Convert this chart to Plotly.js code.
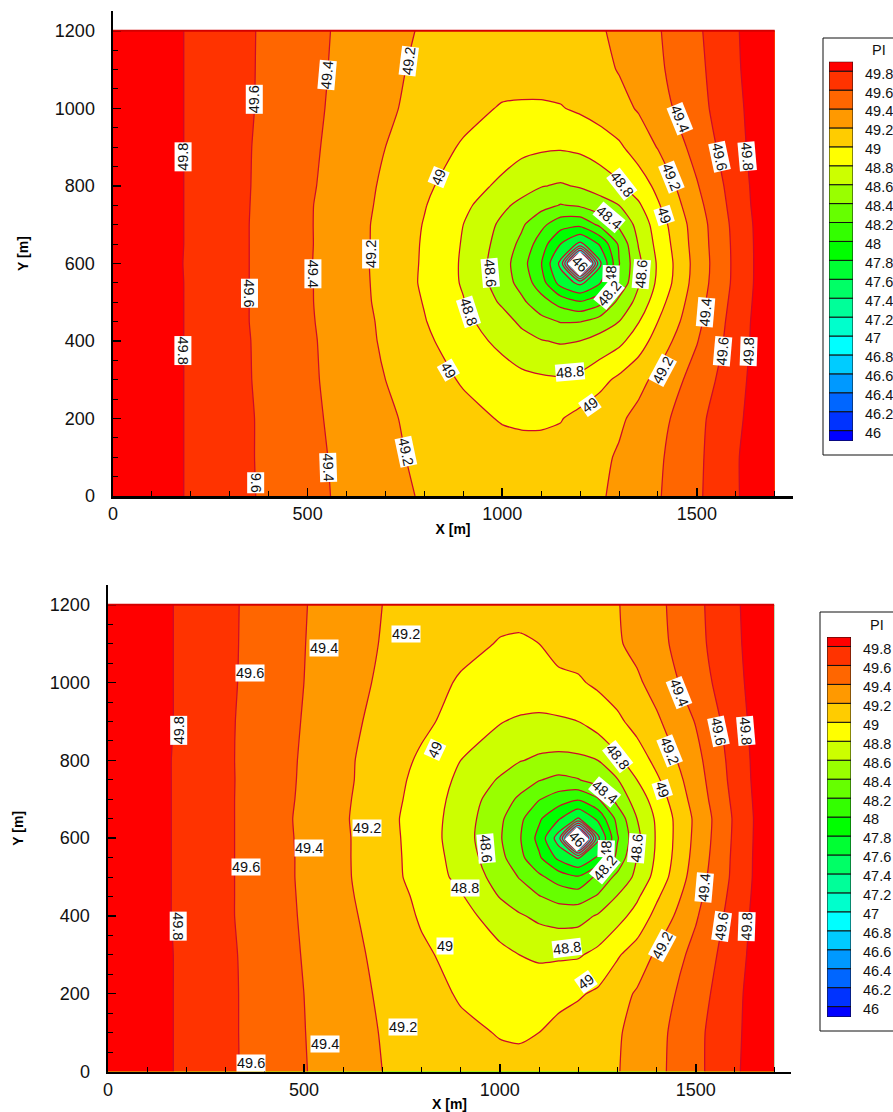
<!DOCTYPE html>
<html>
<head>
<meta charset="utf-8">
<script src="https://cdn.plot.ly/plotly-3.0.1.min.js"></script>
<style>html,body{margin:0;padding:0;background:#fff;overflow:hidden}</style>
</head>
<body>
<div id="chart" style="width:893px;height:1112px"></div>
<script>
const xNodes = [0,100,200,300,400,500,600,700,800,900,1000,1050,1100,1150,1200,1250,1300,1350,1400,1500,1600,1700];
const yNodes = [0,100,200,300,400,450,500,550,600,650,700,750,800,900,1000,1100,1200];

const zTop = [
[50,49.89,49.78,49.67,49.565,49.46,49.358,49.263,49.18,49.14,49.11,49.1,49.1,49.11,49.14,49.18,49.24,49.31,49.384,49.568,49.78,49.99],
[50,49.89,49.78,49.67,49.56,49.454,49.35,49.254,49.15,49.1,49.08,49.07,49.07,49.08,49.11,49.16,49.22,49.3,49.37,49.56,49.78,50],
[50,49.89,49.78,49.67,49.56,49.445,49.335,49.23,49.14,49.06,48.985,48.97,48.97,48.99,49.06,49.12,49.17,49.25,49.33,49.55,49.755,49.99],
[50,49.89,49.78,49.665,49.55,49.435,49.32,49.2,49.09,48.98,48.89,48.85,48.83,48.82,48.85,48.94,49.04,49.145,49.25,49.48,49.73,49.98],
[50,49.89,49.78,49.665,49.545,49.43,49.31,49.17,49.04,48.89,48.75,48.67,48.61,48.58,48.6,48.67,48.75,48.9,49.09,49.39,49.7,49.98],
[50,49.89,49.78,49.66,49.54,49.425,49.295,49.165,49.01,48.85,48.68,48.56,48.46,48.39,48.395,48.49,48.6,48.79,49,49.35,49.69,49.98],
[50,49.89,49.78,49.66,49.54,49.42,49.29,49.15,48.99,48.81,48.57,48.44,48.28,48.13,48.02,48.14,48.46,48.66,48.92,49.32,49.67,49.98],
[50,49.89,49.78,49.66,49.54,49.42,49.285,49.145,48.97,48.78,48.5,48.33,48.09,47.72,47.55,47.78,48.24,48.58,48.84,49.29,49.65,49.98],
[50,49.89,49.777,49.66,49.54,49.417,49.285,49.14,48.976,48.775,48.49,48.28,48.01,47.55,45.9,47.55,48.19,48.556,48.825,49.277,49.647,49.98],
[50,49.89,49.78,49.66,49.54,49.42,49.285,49.145,48.98,48.785,48.52,48.35,48.1,47.8,47.55,47.82,48.23,48.61,48.86,49.29,49.65,49.98],
[50,49.89,49.78,49.66,49.54,49.42,49.28,49.15,48.99,48.8,48.56,48.43,48.25,48.08,48.05,48.24,48.44,48.66,48.9,49.3,49.66,49.98],
[50,49.89,49.78,49.665,49.54,49.42,49.29,49.16,49.01,48.85,48.64,48.55,48.47,48.39,48.43,48.52,48.6,48.77,48.98,49.34,49.68,49.99],
[50,49.89,49.78,49.665,49.545,49.43,49.3,49.17,49.04,48.89,48.76,48.68,48.61,48.58,48.62,48.68,48.77,48.9,49.05,49.385,49.695,49.99],
[50,49.89,49.78,49.665,49.55,49.44,49.32,49.2,49.09,48.98,48.89,48.85,48.83,48.82,48.84,48.9,48.97,49.09,49.21,49.47,49.73,49.99],
[50,49.89,49.78,49.67,49.56,49.448,49.34,49.23,49.14,49.06,48.985,48.98,48.98,48.99,49.03,49.08,49.14,49.217,49.32,49.53,49.75,49.99],
[50,49.89,49.78,49.67,49.563,49.454,49.351,49.254,49.15,49.1,49.08,49.07,49.07,49.08,49.1,49.15,49.21,49.287,49.367,49.55,49.77,50],
[50,49.89,49.78,49.67,49.565,49.46,49.358,49.263,49.18,49.14,49.11,49.1,49.1,49.11,49.14,49.18,49.24,49.31,49.384,49.568,49.78,50]
];

const zBottom = [
[50,49.88,49.76,49.64,49.525,49.41,49.3,49.2,49.13,49.08,49.05,49.05,49.07,49.1,49.14,49.17,49.19,49.27,49.35,49.55,49.77,49.99],
[50,49.88,49.76,49.64,49.52,49.405,49.29,49.19,49.11,49.04,48.99,48.98,49,49.04,49.09,49.14,49.18,49.26,49.34,49.55,49.76,49.99],
[50,49.88,49.76,49.64,49.52,49.4,49.29,49.17,49.08,48.98,48.95,48.94,48.95,48.96,48.98,49.03,49.13,49.22,49.3,49.51,49.75,49.99],
[50,49.88,49.76,49.64,49.51,49.39,49.27,49.15,49.03,48.94,48.84,48.8,48.76,48.77,48.78,48.85,48.98,49.09,49.23,49.46,49.72,49.99],
[50,49.88,49.75,49.63,49.5,49.38,49.25,49.12,48.98,48.86,48.72,48.62,48.56,48.52,48.53,48.62,48.73,48.87,49.06,49.38,49.69,49.99],
[50,49.88,49.75,49.63,49.5,49.375,49.24,49.1,48.96,48.82,48.59,48.5,48.41,48.33,48.31,48.42,48.61,48.77,48.97,49.34,49.67,49.99],
[50,49.88,49.75,49.63,49.5,49.37,49.23,49.09,48.92,48.75,48.52,48.39,48.24,48.11,48.02,48.25,48.45,48.65,48.87,49.3,49.65,49.99],
[50,49.88,49.75,49.63,49.5,49.37,49.23,49.08,48.92,48.72,48.46,48.26,48.03,47.75,47.58,47.83,48.26,48.6,48.83,49.27,49.645,49.99],
[50,49.88,49.75,49.63,49.5,49.366,49.23,49.08,48.91,48.7,48.42,48.22,47.94,47.5,45.9,47.55,48.18,48.55,48.82,49.25,49.636,49.99],
[50,49.88,49.75,49.63,49.5,49.36,49.225,49.07,48.91,48.71,48.44,48.25,48.03,47.82,47.58,47.84,48.26,48.6,48.83,49.24,49.63,49.99],
[50,49.88,49.75,49.63,49.5,49.37,49.23,49.09,48.92,48.73,48.49,48.37,48.21,48.1,48.02,48.18,48.47,48.69,48.89,49.28,49.65,49.99],
[50,49.88,49.75,49.63,49.505,49.375,49.24,49.1,48.94,48.76,48.58,48.49,48.41,48.35,48.39,48.49,48.59,48.8,48.97,49.31,49.67,49.99],
[50,49.88,49.75,49.63,49.5,49.38,49.24,49.11,48.97,48.8,48.68,48.61,48.57,48.55,48.56,48.6,48.76,48.9,49.05,49.34,49.68,49.99],
[50,49.88,49.76,49.63,49.51,49.39,49.26,49.14,49.04,48.93,48.81,48.77,48.75,48.77,48.8,48.89,48.96,49.07,49.17,49.41,49.71,49.99],
[50,49.88,49.76,49.64,49.51,49.4,49.28,49.17,49.08,48.98,48.96,48.96,48.97,48.98,48.98,49.03,49.1,49.17,49.27,49.5,49.74,49.99],
[50,49.88,49.76,49.64,49.52,49.405,49.29,49.19,49.11,49.05,48.99,48.98,49,49.03,49.07,49.13,49.18,49.25,49.335,49.54,49.76,49.99],
[50,49.88,49.76,49.64,49.525,49.41,49.3,49.2,49.13,49.08,49.05,49.05,49.07,49.1,49.14,49.17,49.19,49.27,49.35,49.55,49.77,49.99]
];

const levels = [46,46.2,46.4,46.6,46.8,47,47.2,47.4,47.6,47.8,48,48.2,48.4,48.6,48.8,49,49.2,49.4,49.6,49.8];
const levelText = ['46','46.2','46.4','46.6','46.8','47','47.2','47.4','47.6','47.8','48','48.2','48.4','48.6','48.8','49','49.2','49.4','49.6','49.8'];
const bandColors = ['#0000ff','#0033ff','#0066ff','#0099ff','#00ccff','#00ffff','#00ffcc','#00ff99','#00ff66','#00ff33','#00ff00','#33ff00','#66ff00','#99ff00','#ccff00','#ffff00','#ffcc00','#ff9900','#ff6600','#ff3300','#ff0000'];

// contour labels: [text, x, y, angle]
const labelsTop = [
['49.8',181,876,-90],['49.8',179,376,90],['49.6',363,1024,-90],['49.6',351,524,90],['9.6',366,33,90],
['49.4',550,1086,-85],['49.4',514,573,90],['49.4',552,74,88],['49.2',759,1123,-83],['49.2',661,625,-90],['49.2',753,114,78],
['49',836,824,-68],['49',861,324,60],['48.8',913,474,72],['48.6',969,575,85],['48.8',1175,320,-5],['49',1226,234,-35],
['49.2',1413,324,-62],['49.4',1522,475,-85],['49.6',1567,373,-85],['49.8',1634,373,-88],['49.8',1630,875,85],['49.6',1558,874,78],
['49.4',1457,973,68],['49.2',1434,822,68],['49',1415,724,72],['48.8',1307,805,52],['48.4',1273,719,40],['48.6',1357,573,-85],
['48',1279,573,-88],['48.2',1273,522,-50],['46',1200,599,45]
];
const labelsBottom = [
['49.8',180,876,-90],['49.8',180,375,90],['49.6',363,1026,0],['49.6',352,525,0],['49.6',366,23,0],
['49.4',551,1088,0],['49.4',513,574,0],['49.4',553,72,0],['49.2',760,1125,0],['49.2',662,625,0],['49.2',753,114,0],
['49',834,827,-65],['49',860,323,0],['48.8',911,473,0],['48.6',964,574,85],['48.8',1172,317,-7],['49',1219,230,-35],
['49.2',1413,324,-62],['49.4',1522,474,-85],['49.6',1567,373,-82],['49.8',1631,373,-88],['49.8',1628,876,85],['49.6',1558,876,78],
['49.4',1456,975,68],['49.2',1434,825,68],['49',1415,724,72],['48.8',1302,810,52],['48.4',1268,720,40],['48.6',1350,574,-85],
['48',1272,574,-88],['48.2',1268,523,-50],['46',1196,598,45]
];

const W = 893, H = 1112;
const fontName = '"Liberation Sans", Arial, sans-serif';
const fx = p => p / W;
const fy = p => 1 - p / H;

// one colour stop per band, so each band's midpoint lands exactly on its colour
const scale = bandColors.map((c, i) => [i / (bandColors.length - 1), c]);

function contour(z, xa, ya) {
  return {type:'contour', x:xNodes, y:yNodes, z:z, xaxis:xa, yaxis:ya, colorscale:scale,
    autocontour:false, contours:{start:46, end:49.8, size:0.2, coloring:'fill', showlabels:false},
    line:{color:'#cc0a2a', width:1.25, smoothing:0.6}, showscale:false, hoverinfo:'skip'};
}
const edges = [45.89].concat(levels, [49.9]);
function legendBars(xa, ya) {
  return {type:'bar', x:bandColors.map(() => 0.5), y:bandColors.map((c, i) => edges[i + 1] - edges[i]), base:edges.slice(0, -1),
    width:1, xaxis:xa, yaxis:ya, marker:{color:bandColors, line:{color:'#111', width:1}}, hoverinfo:'skip', showlegend:false};
}
function plotX(l, r, maxX, standoff) {
  return {domain:[fx(l), fx(r)], range:[0, maxX], showgrid:false, zeroline:false,
    showline:true, linecolor:'#000', linewidth:2.5, ticks:'inside', ticklen:8, tickwidth:1.5, tickcolor:'#000',
    tickvals:[0,500,1000,1500], ticktext:['0','500','1000','1500'], tickfont:{family:fontName, size:18, color:'#111'},
    minor:{tickvals:[100,200,300,400,600,700,800,900,1100,1200,1300,1400,1600,1700], ticks:'inside', ticklen:5, tickwidth:1, tickcolor:'#000', showgrid:false},
    title:{text:'X [m]', font:{family:fontName, size:14, color:'#000', weight:'bold'}, standoff:standoff}, layer:'above traces'};
}
function plotY(b, t, anchor) {
  return {domain:[fy(b), fy(t)], range:[0, 1251], showgrid:false, zeroline:false, anchor:anchor,
    showline:true, linecolor:'#000', linewidth:2.5, ticks:'inside', ticklen:8, tickwidth:1.5, tickcolor:'#000',
    tickvals:[0,200,400,600,800,1000,1200], ticktext:['0','200','400','600','800','1000','1200'], tickfont:{family:fontName, size:18, color:'#111'},
    ticklabelstandoff:12,
    minor:{dtick:50, ticks:'inside', ticklen:5, tickwidth:1, tickcolor:'#000', showgrid:false},
    title:{text:'Y [m]', font:{family:fontName, size:14, color:'#000', weight:'bold'}, standoff:23}, layer:'above traces'};
}
function legX(l, r, anchor) {
  return {domain:[fx(l), fx(r)], range:[0, 1], visible:false, fixedrange:true, anchor:anchor};
}
function legY(b, t, anchor) {
  return {domain:[fy(b), fy(t)], range:[45.89, 49.9], side:'right', anchor:anchor, showgrid:false, zeroline:false, showline:false,
    ticks:'', tickvals:levels.map(v => v - 0.025), ticktext:levelText, tickfont:{family:fontName, size:14.5, color:'#111'}, ticklabelstandoff:11};
}
function ann(list, xa, ya) {
  return list.map(l => ({text:l[0], x:l[1], y:l[2], xref:xa, yref:ya, textangle:l[3], showarrow:false, bgcolor:'#fff',
    font:{family:fontName, size:14.5, color:'#111'}, borderpad:0}));
}
const frameTop = {type:'line', xref:'x', yref:'y', x0:0, x1:1700, y0:1200, y1:1200, line:{color:'#d40000', width:2}, layer:'above'};
const frameBottom = {type:'line', xref:'x2', yref:'y2', x0:0, x1:1700, y0:1200, y1:1200, line:{color:'#d40000', width:2}, layer:'above'};
const boxTop = {type:'rect', xref:'paper', yref:'paper', x0:fx(823), x1:fx(900), y0:fy(455), y1:fy(38), line:{color:'#111', width:1}, fillcolor:'rgba(0,0,0,0)', layer:'below'};
const boxBottom = {type:'rect', xref:'paper', yref:'paper', x0:fx(820), x1:fx(900), y0:fy(1031), y1:fy(612), line:{color:'#111', width:1}, fillcolor:'rgba(0,0,0,0)', layer:'below'};
const legendTitles = [
  {text:'PI', xref:'paper', yref:'paper', x:fx(879), y:fy(50), xanchor:'center', yanchor:'middle', showarrow:false, font:{family:fontName, size:14.5, color:'#111'}},
  {text:'PI', xref:'paper', yref:'paper', x:fx(877), y:fy(625), xanchor:'center', yanchor:'middle', showarrow:false, font:{family:fontName, size:14.5, color:'#111'}}
];

const traces = [contour(zTop,'x','y'), contour(zBottom,'x2','y2'), legendBars('x3','y3'), legendBars('x4','y4')];
const layout = {
  width:W, height:H, margin:{l:0, r:0, t:0, b:0, pad:0}, paper_bgcolor:'#fff', plot_bgcolor:'#fff', showlegend:false, barmode:'overlay',
  font:{family:fontName},
  xaxis:Object.assign(plotX(113, 793, 1747, 1), {anchor:'y'}),
  yaxis:plotY(496, 11, 'x'),
  xaxis2:Object.assign(plotX(108, 791, 1743, 7), {anchor:'y2'}),
  yaxis2:plotY(1071.5, 585, 'x2'),
  xaxis3:legX(829, 853, 'y3'),
  yaxis3:legY(441, 61.7, 'x3'),
  xaxis4:legX(827, 851, 'y4'),
  yaxis4:legY(1017, 637, 'x4'),
  shapes:[frameTop, frameBottom, boxTop, boxBottom],
  annotations:ann(labelsTop,'x','y').concat(ann(labelsBottom,'x2','y2'), legendTitles)
};
Plotly.newPlot('chart', traces, layout, {displayModeBar:false, staticPlot:true});
</script>
</body>
</html>
